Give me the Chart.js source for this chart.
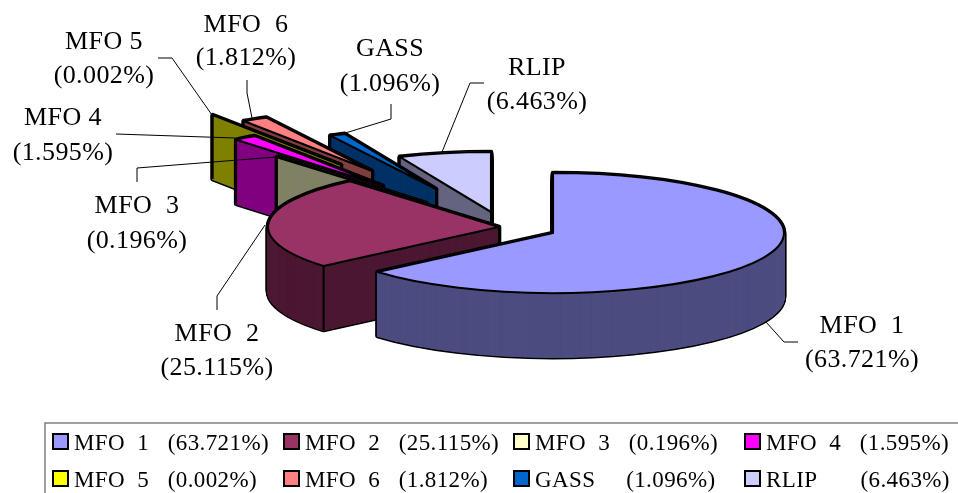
<!DOCTYPE html>
<html><head><meta charset="utf-8">
<style>html,body{margin:0;padding:0;background:#fff;overflow:hidden}canvas{display:block}</style>
<script src="https://cdn.jsdelivr.net/npm/chart.js@4"></script>
</head><body>
<canvas id="c" width="958" height="493"></canvas>
<script>
const categories = ["MFO  1","MFO  2","MFO  3","MFO 4","MFO 5","MFO  6","GASS","RLIP"];
const legendNames = ["MFO  1","MFO  2","MFO  3","MFO  4","MFO  5","MFO  6","GASS","RLIP"];
const legendGaps = [3,3,3,3,3,3,5,7];
const values = [63.721,25.115,0.196,1.595,0.002,1.812,1.096,6.463];
const topColors = ["#9999FF","#993366","#FFFFCC","#FF00FF","#FFFF00","#FF8080","#0066CC","#CCCCFF"];
const sideColors = ["#4D4D80","#4D1933","#808066","#800080","#808000","#804040","#003366","#666680"];

// 3-D projection style
const RX = 231, RY = 60, DEPTH = 64;
const apexX = [553,499,426,383,341,372,436,491];
const apexY = [233,227,203,186,165,171,189,212];

// callout label placement: [centerX, line1 baseline, line2 baseline]
const labelPos = [[862,333,367],[217,341,375],[137,213,248],[63,125,160],[104,49,83],[246,32,65],[390,56,91],[537,75,109]];
const leaders = [
  [[766,322],[784,342],[798,342]],
  [[265,225],[217,296],[217,310]],
  [[276,157],[137,168],[137,182]],
  [[235,138],[116,134]],
  [[212,115],[172,58],[158,58]],
  [[252,118],[247,93],[247,80]],
  [[342,134],[391,119],[391,104]],
  [[442,152],[470,83],[484,83]]
];
const legendCols = [52,283,513,744];
const legendRows = [433,470];

const pie3d = {
  id:'pie3d',
  beforeDatasetDraw(chart){
    const ctx = chart.ctx, arcs = chart.getDatasetMeta(0).data, dpr = chart.currentDevicePixelRatio;
    const protoStroke = ctx.stroke;
    ctx.stroke = function(){ ctx.save(); ctx.setTransform(dpr,0,0,dpr,0,0); protoStroke.call(ctx); ctx.restore(); };
    const paint = (arc,i,d,opt)=>{
      const a = Object.create(arc);
      a.options = Object.assign({},arc.options,opt);
      const k = arc.outerRadius;
      ctx.save();
      ctx.translate(apexX[i],apexY[i]+d);
      ctx.scale(RX/k,RY/k);
      ctx.translate(-arc.x,-arc.y);
      a.draw(ctx);
      ctx.restore();
    };
    for(let i=arcs.length-1;i>=0;i--){
      const arc = arcs[i];
      for(let d=DEPTH;d>=0;d-=1) paint(arc,i,d,{backgroundColor:'#000',borderColor:'#000',borderWidth:4.6});
      for(let d=DEPTH;d>=0;d-=0.25) paint(arc,i,d,{backgroundColor:sideColors[i],borderColor:sideColors[i],borderWidth:1.5});
      // vertical edges
      ctx.save();
      ctx.strokeStyle='#000';ctx.lineWidth=2;
      const sx = apexX[i]+Math.cos(arc.startAngle)*RX, sy = apexY[i]+Math.sin(arc.startAngle)*RY;
      ctx.beginPath();
      ctx.moveTo(sx,sy);ctx.lineTo(sx,sy+DEPTH);
      if(arc.circumference < Math.PI){ ctx.moveTo(apexX[i],apexY[i]);ctx.lineTo(apexX[i],apexY[i]+DEPTH); }
      ctx.stroke();
      ctx.restore();
      paint(arc,i,0,{backgroundColor:topColors[i],borderColor:'#000',borderWidth:2.1});
    }
    delete ctx.stroke;
    return false;
  },
  afterDraw(chart){
    const ctx = chart.ctx;
    ctx.save();
    // leader lines
    ctx.strokeStyle='#000';ctx.lineWidth=1;
    leaders.forEach(pts=>{
      ctx.beginPath();
      pts.forEach((p,j)=> j?ctx.lineTo(p[0],p[1]):ctx.moveTo(p[0],p[1]));
      ctx.stroke();
    });
    // callout labels
    ctx.fillStyle='#000';ctx.textBaseline='alphabetic';ctx.textAlign='center';
    ctx.font='26px "Liberation Serif"';
    ctx.letterSpacing='0.4px';
    categories.forEach((name,i)=>{
      const p = labelPos[i];
      ctx.fillText(name,p[0],p[1]);
      ctx.fillText('('+values[i].toFixed(3)+'%)',p[0],p[2]);
    });
    // legend frame
    ctx.strokeStyle='#808080';ctx.lineWidth=1.5;
    ctx.beginPath();ctx.moveTo(45,500);ctx.lineTo(45,423);ctx.lineTo(965,423);ctx.stroke();
    // legend entries
    ctx.textAlign='left';
    ctx.font='23px "Liberation Serif"';
    legendNames.forEach((name,i)=>{
      const x = legendCols[i%4], y = legendRows[Math.floor(i/4)];
      ctx.fillStyle=topColors[i];ctx.strokeStyle='#000';ctx.lineWidth=2;
      ctx.fillRect(x+1,y+1,15,15);ctx.strokeRect(x+1,y+1,15,15);
      ctx.fillStyle='#000';
      ctx.fillText(name+' '.repeat(legendGaps[i])+'('+values[i].toFixed(3)+'%)',x+22,y+17);
    });
    ctx.restore();
  }
};

new Chart(document.getElementById('c'),{
  type:'pie',
  data:{labels:categories,datasets:[{data:values,backgroundColor:topColors,borderColor:'#000',borderWidth:2,borderJoinStyle:'round'}]},
  options:{
    responsive:false,animation:false,
    layout:{padding:0},
    plugins:{legend:{display:false},tooltip:{enabled:false}}
  },
  plugins:[pie3d]
});
</script>
</body></html>
